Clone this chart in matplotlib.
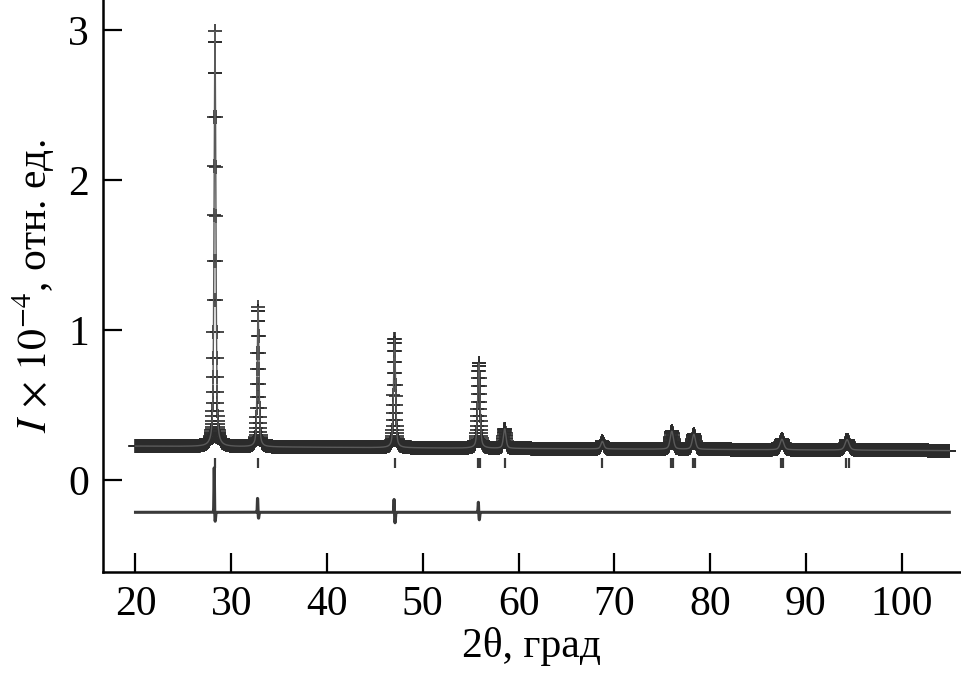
import numpy as np
import matplotlib
matplotlib.use("Agg")
from matplotlib import pyplot as plt

plt.rcParams['font.family'] = ['Liberation Serif', 'DejaVu Serif']
plt.rcParams['mathtext.fontset'] = 'stix'

# пики: положение 2θ, высота над фоном, ширина (FWHM)
peak_pos = [28.3, 32.8, 47.05, 55.85, 58.55, 68.75, 76.0, 78.3, 87.5, 94.3]
peak_height = [2.77, 0.93, 0.73, 0.57, 0.13, 0.05, 0.12, 0.10, 0.07, 0.07]
peak_fwhm = [0.22, 0.22, 0.25, 0.28, 0.32, 0.36, 0.40, 0.40, 0.46, 0.50]

# фон
bg_x = [20, 60, 105]
bg_y = [0.228, 0.212, 0.198]

# штрихи брэгговских отражений
bragg_pos = [28.3, 32.8, 47.05, 55.78, 55.93, 58.55, 68.75, 75.93, 76.12,
             78.22, 78.42, 87.42, 87.65, 94.22, 94.47]

# разностная кривая
diff_base = -0.213
diff_pos = [28.22, 32.75, 47.0, 55.8]
diff_up = [0.30, 0.10, 0.09, 0.07]
diff_down = [0.06, 0.04, 0.07, 0.05]

tth = np.arange(20.0, 105.0, 0.02)


def profile(x):
    y = np.interp(x, bg_x, bg_y)
    for p, h, w in zip(peak_pos, peak_height, peak_fwhm):
        g = np.exp(-4 * np.log(2) * ((x - p) / w) ** 2)
        l = 1 / (1 + 4 * ((x - p) / w) ** 2)
        y = y + h * (0.5 * g + 0.5 * l)
    return y


calc = profile(tth)
obs = calc

diff = np.full_like(tth, diff_base)
for p, u, d in zip(diff_pos, diff_up, diff_down):
    diff += u * np.exp(-((tth - p) / 0.04) ** 2)
    diff -= d * np.exp(-((tth - p - 0.1) / 0.06) ** 2)

fig = plt.figure(figsize=(9.62, 6.76), dpi=100)
ax = fig.add_axes([0.107, 0.154, 0.891, 0.846])

ax.plot(tth, obs, ls='none', marker='+', ms=10, mew=1.2, color='#2b2b2b')
ax.plot(tth, calc, color='#5a5a5a', lw=1.0)
ax.vlines(bragg_pos, 0.08, 0.15, color='#3a3a3a', lw=1.6)
ax.plot(tth, diff, color='#3a3a3a', lw=2.2)

ax.set_xlim(16.6, 106.1)
ax.set_ylim(-0.61, 3.2)
ax.set_xticks([20, 30, 40, 50, 60, 70, 80, 90, 100])
ax.set_yticks([0, 1, 2, 3])

for s in ['top', 'right']:
    ax.spines[s].set_visible(False)
for s in ['left', 'bottom']:
    ax.spines[s].set_linewidth(1.8)

ax.tick_params(direction='in', length=14, width=1.6, labelsize=30, pad=10)
ax.set_xlabel('2θ, град', fontsize=30, labelpad=2)
ax.set_ylabel(r'$I\,\times\,10^{-4}$, отн. ед.', fontsize=30, labelpad=8)

fig.savefig('out.png', dpi=100)
